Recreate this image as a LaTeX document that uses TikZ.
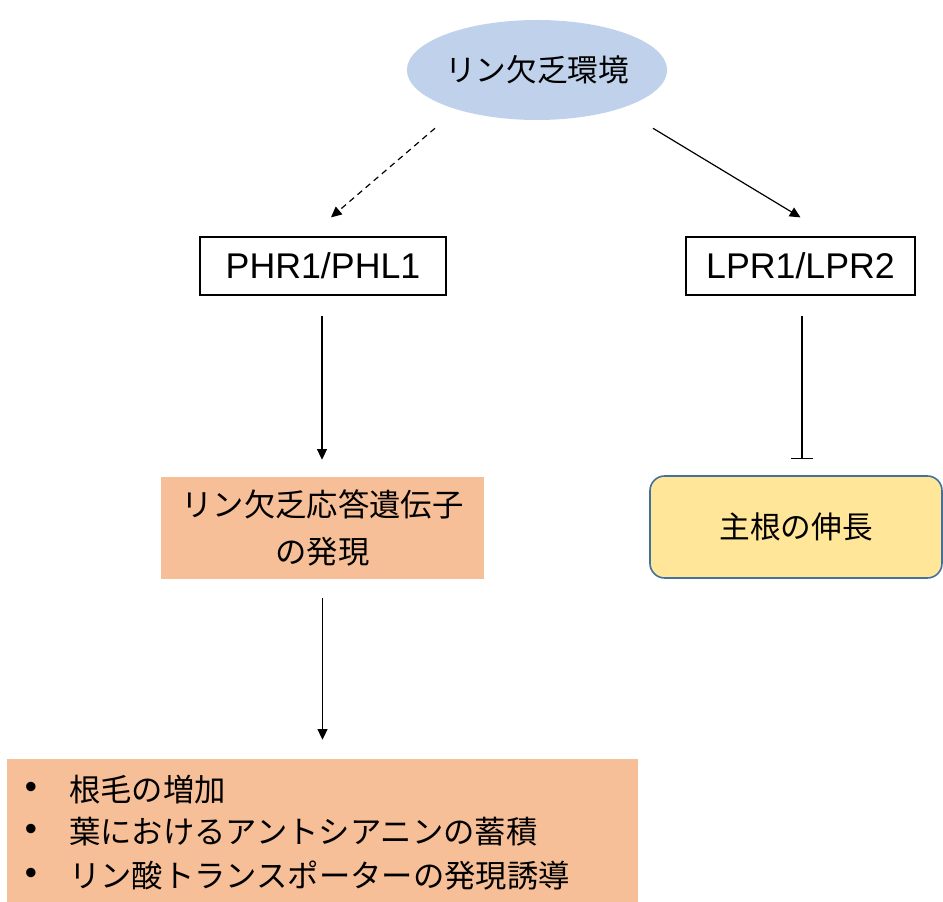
\documentclass[tikz,border=0pt]{standalone}
\usepackage{fontspec}
\setmainfont{Liberation Sans}
\newfontfamily\jp{Noto Sans CJK JP}
\usetikzlibrary{shapes.geometric,arrows.meta,calc}
\definecolor{envblue}{HTML}{C0D1EB}
\definecolor{boxorange}{HTML}{F6BF97}
\definecolor{rootyellow}{HTML}{FFE699}
\definecolor{rootline}{HTML}{41719C}
\tikzset{
  px/.style={x=0.75pt,y=-0.75pt},
  envnode/.style={ellipse,fill=envblue,draw=none,minimum width=187.5pt,minimum height=75pt,inner sep=0pt,font=\jp\fontsize{23}{27}\selectfont},
  genebox/.style={rectangle,draw=black,line width=0.9pt,fill=white,minimum height=43.5pt,inner sep=0pt,font=\fontsize{26.8}{30}\selectfont},
  orangebox/.style={rectangle,fill=boxorange,draw=none,inner sep=0pt,align=center},
  rootbox/.style={rectangle,rounded corners=11pt,fill=rootyellow,draw=rootline,line width=1.2pt,minimum width=219pt,minimum height=76.5pt,inner sep=0pt,font=\jp\fontsize{23}{27}\selectfont},
  conn/.style={line width=0.9pt,-{Triangle[length=8pt,width=7.5pt]}},
  inhib/.style={line width=0.9pt,-{Bar[width=17pt,line width=1.2pt]}},
  bulletnode/.style={anchor=center,inner sep=0pt,font=\fontsize{26}{28}\selectfont},
  itemtext/.style={anchor=west,inner sep=0pt,font=\jp\fontsize{23.5}{27}\selectfont},
}
\begin{document}
\begin{tikzpicture}[px]
\useasboundingbox (0,0) rectangle (943,902);
\node[envnode] (env) at (537,70) {リン欠乏環境};
\node[genebox,minimum width=184.5pt] (phr) at (323,266) {PHR1/PHL1};
\node[genebox,minimum width=171.75pt] (lpr) at (800.5,266) {LPR1/LPR2};
\node[orangebox,minimum width=242.25pt,minimum height=76.5pt,font=\jp\fontsize{23.5}{35}\selectfont] (gene) at (322.5,528) {リン欠乏応答遺伝子\\の発現};
\node[rootbox] (root) at (796,527) {主根の伸長};
\node[orangebox,minimum width=473.25pt,minimum height=107.25pt] (out) at (322.5,830.5) {};
\node[bulletnode] (b1) at (31,790) {•};
\node[bulletnode] (b2) at (31,832) {•};
\node[bulletnode] (b3) at (31,876) {•};
\node[itemtext] (t1) at (69,790) {根毛の増加};
\node[itemtext] (t2) at (69,832) {葉におけるアントシアニンの蓄積};
\node[itemtext] (t3) at (69,876) {リン酸トランスポーターの発現誘導};
\draw[conn,dash pattern=on 4.5pt off 3.5pt] ($(env.south)+(-102,8)$) -- ($(phr.north)+(8,-19)$);
\draw[conn] ($(env.south)+(116,8)$) -- ($(lpr.north)+(0,-19)$);
\draw[conn] ($(phr.south)+(-1,20)$) -- ($(gene.north)+(-0.5,-17)$);
\draw[inhib] ($(lpr.south)+(1.5,20)$) -- ($(root.north)+(6,-16)$);
\draw[conn] ($(gene.south)+(0,19)$) -- ($(out.north)+(0,-19)$);
\end{tikzpicture}
\end{document}
